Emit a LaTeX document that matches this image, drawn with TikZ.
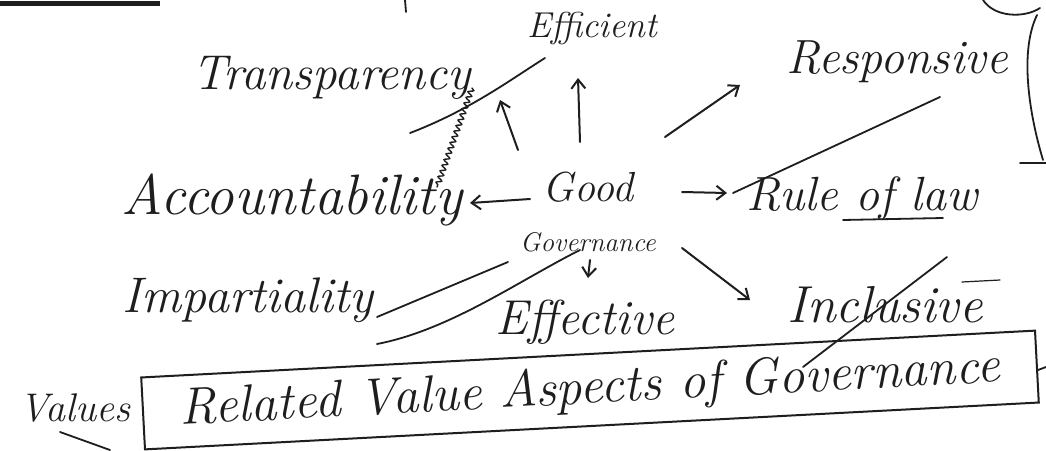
\documentclass[tikz,border=0pt]{standalone}
\usetikzlibrary{arrows.meta,calc,decorations.pathmorphing}
\definecolor{ink}{HTML}{1E1E1E}
\newcommand{\fsz}[1]{\fontsize{#1}{#1}\selectfont\itshape}
\tikzset{
  lbl/.style={text=ink,inner sep=1pt},
  arr/.style={draw=ink,line width=2pt,line cap=round,-{Straight Barb[length=9pt,width=14pt,line width=2pt]}},
  stray/.style={draw=ink,line width=1.8pt,line cap=round},
  framebox/.style={draw=ink,line width=2pt,text=ink,inner sep=0pt,rotate=3,minimum width=895pt,minimum height=72pt},
}
\begin{document}
\begin{tikzpicture}[x=1pt,y=-1pt]
\useasboundingbox[fill=white] (0,0) rectangle (1046,450);
% labels
\node[lbl,font=\fsz{49}] (trans) at (332,78) {Transparency};
\node[lbl,font=\fsz{36}] (eff) at (592,28) {Efficient};
\node[lbl,font=\fsz{48}] (resp) at (897,62) {Responsive};
\node[lbl,font=\fsz{57}] (acc) at (292,200) {Accountability};
\node[lbl,align=center,font=\fontsize{42}{50}\selectfont\itshape] (gg) at (588,212) {Good\\{\fsz{27}Governance}};
\node[lbl,font=\fsz{48}] (rol) at (862,198) {Rule of law};
\node[lbl,font=\fsz{50}] (imp) at (248,300) {Impartiality};
\node[lbl,font=\fsz{49}] (effe) at (585,322) {Effective};
\node[lbl,font=\fsz{52}] (incl) at (885,305) {Inclusive};
\node[lbl,font=\fsz{40}] (val) at (75,408) {Values};
\node[framebox,font=\fsz{52}] (box) at (590,390) {Related Value Aspects of Governance};
% arrows from Good Governance
\draw[arr] ($(gg)+(-70,-62)$) -- ($(trans)+(168,22)$);
\draw[arr] ($(gg)+(-8,-70)$) -- ($(eff)+(-14,50)$);
\draw[arr] ($(gg)+(77,-75)$) -- ($(resp)+(-157,23)$);
\draw[arr] ($(gg)+(-58,-13)$) -- ($(acc)+(178,3)$);
\draw[arr] ($(gg)+(94,-20)$) -- ($(rol)+(-135,-5)$);
\draw[arr] ($(gg)+(2,48)$) -- ($(effe)+(3,-44)$);
\draw[arr] ($(gg)+(94,36)$) -- ($(incl)+(-135,-5)$);
% stray strokes
\draw[stray] (410,133) .. controls (470,110) and (510,80) .. (545,58);
\draw[stray,line width=1.4pt,decorate,decoration={snake,amplitude=2.5pt,segment length=6pt}] (472,88) -- (437,187);
\draw[stray] (940,97) -- (733,193);
\draw[stray] (843,220) -- (943,218);
\draw[stray] (947,257) -- (803,367);
\draw[stray,line width=1.2pt] (962,282) -- (1000,280);
\draw[stray] (377,317) -- (508,262);
\draw[stray] (377,344) .. controls (450,330) and (520,280) .. (580,250);
\draw[stray] (60,432) -- (110,450);
\draw[stray,line width=5pt,line cap=butt] (0,3) -- (160,3);
\draw[stray] (405,0) -- (406,12);
\draw[stray] (983,0) .. controls (995,18) and (1025,18) .. (1040,8);
\draw[stray] (1037,15) .. controls (1020,50) and (1028,110) .. (1043,160);
\draw[stray] (1020,163) -- (1046,163);
\draw[stray] (1038,370) -- (1046,367);
\end{tikzpicture}
\end{document}
